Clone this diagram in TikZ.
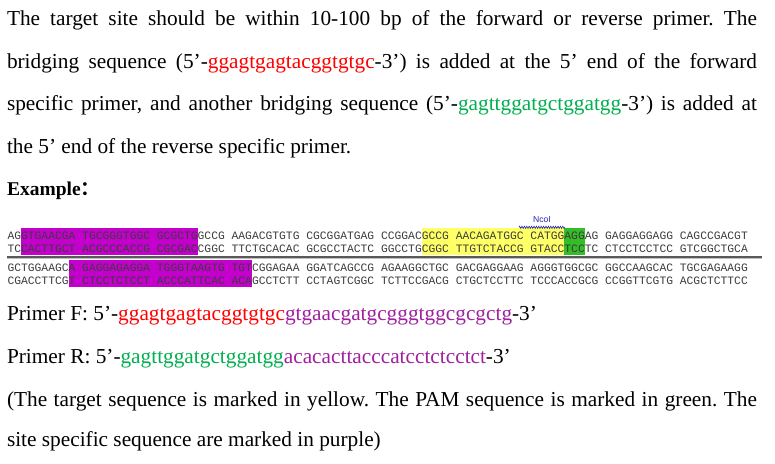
\documentclass[tikz,border=0pt]{standalone}
\usepackage{fontspec}
\setmainfont{Liberation Serif}
\newfontfamily\seqfont{Liberation Mono}
\newfontfamily\labfont{Liberation Sans}
\newfontfamily\cjkfont{Noto Sans CJK SC}[BoldFont={Noto Sans CJK SC Bold}]
\usetikzlibrary{decorations.pathmorphing}
\definecolor{redseq}{RGB}{255,0,0}
\definecolor{grnseq}{RGB}{0,176,80}
\definecolor{purseq}{RGB}{160,32,160}
\definecolor{hlpur}{RGB}{196,0,204}
\definecolor{hlyel}{RGB}{255,255,102}
\definecolor{hlgrn}{RGB}{51,190,40}
\definecolor{seqtext}{RGB}{60,60,60}
\definecolor{ncoblue}{RGB}{40,40,170}
\newcommand{\bodysize}{\fontsize{21.3}{25}\selectfont}
\newcommand{\jline}[1]{\makebox[750pt][s]{#1}}
\frenchspacing
\begin{document}
\begin{tikzpicture}[x=1pt,y=-1pt,
  txt/.style={anchor=base west,inner sep=0pt,outer sep=0pt,font=\bodysize},
  seq/.style={anchor=base west,inner sep=0pt,outer sep=0pt,font=\seqfont\fontsize{11.32}{13}\selectfont,text=seqtext}]
\useasboundingbox[fill=white] (0,0) rectangle (775,463);
% highlights
\fill[hlpur] (21.1,228) rectangle (197.6,255);
\fill[hlyel] (421.7,228) rectangle (564.3,255);
\fill[hlgrn] (564.3,228) rectangle (584.7,255);
\fill[hlpur] (68.6,260) rectangle (252,287);
% paragraph
\node[txt] (p1) at (7,25) {\jline{The target site should be within 10-100 bp of the forward or reverse primer. The}};
\node[txt] (p2) at (7,68) {\jline{bridging sequence (5’-\textcolor{redseq}{ggagtgagtacggtgtgc}-3’) is added at the 5’ end of the forward}};
\node[txt] (p3) at (7,110) {\jline{specific primer, and another bridging sequence (5’-\textcolor{grnseq}{gagttggatgctggatgg}-3’) is added at}};
\node[txt] (p4) at (7,153) {the 5’ end of the reverse specific primer.};
\node[txt,font=\fontsize{19.5}{22}\selectfont\bfseries] (ex) at (7,195) {Example{\cjkfont\bfseries ：}};
% sequences
\node[seq] (s1) at (7.5,239.4) {AGGTGAACGA TGCGGGTGGC GCGCTGGCCG AAGACGTGTG CGCGGATGAG CCGGACGCCG AACAGATGGC CATGGAGGAG GAGGAGGAGG CAGCCGACGT};
\node[seq] (s2) at (7.5,252.7) {TCCACTTGCT ACGCCCACCG CGCGACCGGC TTCTGCACAC GCGCCTACTC GGCCTGCGGC TTGTCTACCG GTACCTCCTC CTCCTCCTCC GTCGGCTGCA};
\node[seq] (s3) at (7.5,271.4) {GCTGGAAGCA GAGGAGAGGA TGGGTAAGTG TGTCGGAGAA GGATCAGCCG AGAAGGCTGC GACGAGGAAG AGGGTGGCGC GGCCAAGCAC TGCGAGAAGG};
\node[seq] (s4) at (7.5,284.7) {CGACCTTCGT CTCCTCTCCT ACCCATTCAC ACAGCCTCTT CCTAGTCGGC TCTTCCGACG CTGCTCCTTC TCCCACCGCG CCGGTTCGTG ACGCTCTTCC};
% separator
\coordinate (sepL) at (7,257);
\coordinate (sepR) at (762,257);
\draw[line width=1.3pt,black!65] (sepL) -- (sepR);
\draw[line width=0.8pt,black!25] ([yshift=-1.2pt]sepL) -- ([yshift=-1.2pt]sepR);
% NcoI
\node[inner sep=0pt,font=\labfont\fontsize{8.6}{9}\selectfont,text=ncoblue] (nco) at (542,219.5) {NcoI};
\coordinate (wL) at (519,227.3);
\coordinate (wR) at (565,227.3);
\draw[ncoblue,line width=0.6pt,decorate,decoration={zigzag,amplitude=1.1pt,segment length=2.4pt}] (wL) -- (wR);
% primers
\node[txt] (pf) at (7,320.7) {Primer F: 5’-\textcolor{redseq}{ggagtgagtacggtgtgc}\textcolor{purseq}{gtgaacgatgcgggtggcgcgctg}-3’};
\node[txt] (pr) at (7,363) {Primer R: 5’-\textcolor{grnseq}{gagttggatgctggatgg}\textcolor{purseq}{acacacttacccatcctctcctct}-3’};
% note
\node[txt] (n1) at (7,406.7) {\jline{(The target sequence is marked in yellow. The PAM sequence is marked in green. The}};
\node[txt] (n2) at (7,446) {site specific sequence are marked in purple)};
\end{tikzpicture}
\end{document}
